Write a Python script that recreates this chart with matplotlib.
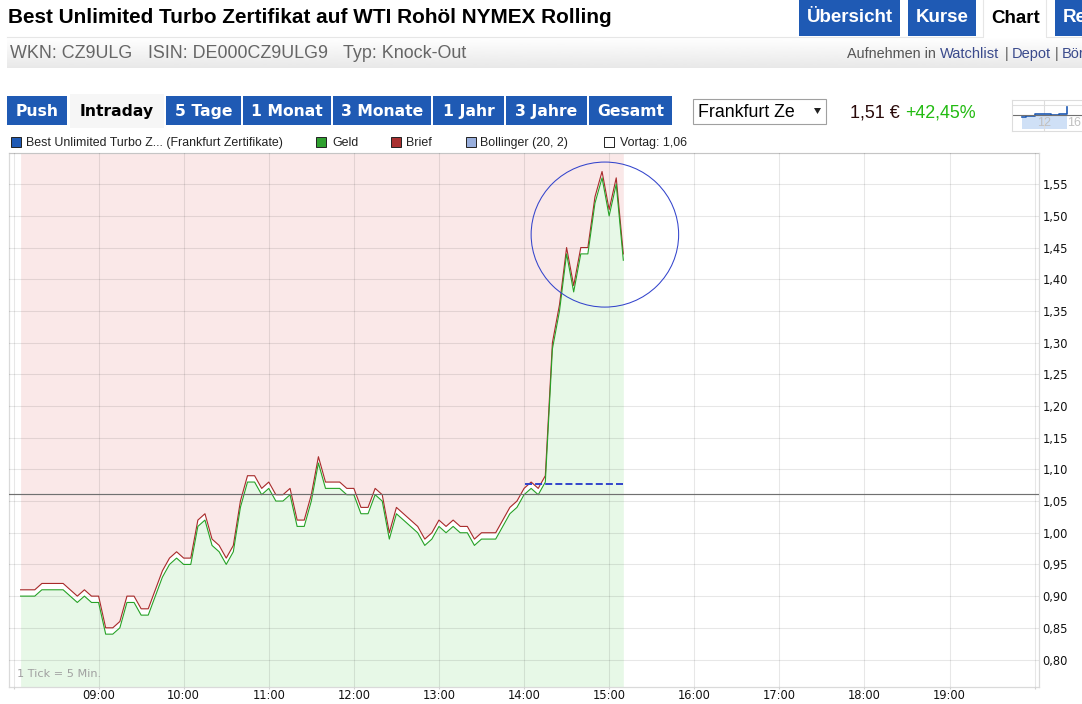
import numpy as np
import matplotlib
matplotlib.use('Agg')
import matplotlib.pyplot as plt
from matplotlib.patches import Rectangle, Ellipse, Polygon

W, H = 1082, 704

# intraday data, one entry every 5 min, one row per hour
times = [
    '08:05', '08:10', '08:15', '08:20', '08:25', '08:30', '08:35', '08:40', '08:45', '08:50', '08:55',
    '09:00', '09:05', '09:10', '09:15', '09:20', '09:25', '09:30', '09:35', '09:40', '09:45', '09:50', '09:55',
    '10:00', '10:05', '10:10', '10:15', '10:20', '10:25', '10:30', '10:35', '10:40', '10:45', '10:50', '10:55',
    '11:00', '11:05', '11:10', '11:15', '11:20', '11:25', '11:30', '11:35', '11:40', '11:45', '11:50', '11:55',
    '12:00', '12:05', '12:10', '12:15', '12:20', '12:25', '12:30', '12:35', '12:40', '12:45', '12:50', '12:55',
    '13:00', '13:05', '13:10', '13:15', '13:20', '13:25', '13:30', '13:35', '13:40', '13:45', '13:50', '13:55',
    '14:00', '14:05', '14:10', '14:15', '14:20', '14:25', '14:30', '14:35', '14:40', '14:45', '14:50', '14:55',
    '15:00', '15:05', '15:10',
]
geld = [
    .90, .90, .90, .91, .91, .91, .91, .90, .89, .90, .89,
    .89, .84, .84, .85, .89, .89, .87, .87, .90, .93, .95, .96,
    .95, .95, 1.01, 1.02, .98, .97, .95, .97, 1.04, 1.08, 1.08, 1.06,
    1.07, 1.05, 1.05, 1.06, 1.01, 1.01, 1.05, 1.11, 1.07, 1.07, 1.07, 1.06,
    1.06, 1.03, 1.03, 1.06, 1.05, .99, 1.03, 1.02, 1.01, 1.00, .98, .99,
    1.01, 1.00, 1.01, 1.00, 1.00, .98, .99, .99, .99, 1.01, 1.03, 1.04,
    1.06, 1.07, 1.06, 1.08, 1.29, 1.35, 1.44, 1.38, 1.44, 1.44, 1.52, 1.56,
    1.50, 1.55, 1.43,
]
brief = [
    .91, .91, .91, .92, .92, .92, .92, .91, .90, .91, .90,
    .90, .85, .85, .86, .90, .90, .88, .88, .91, .94, .96, .97,
    .96, .96, 1.02, 1.03, .99, .98, .96, .98, 1.05, 1.09, 1.09, 1.07,
    1.08, 1.06, 1.06, 1.07, 1.02, 1.02, 1.06, 1.12, 1.08, 1.08, 1.08, 1.07,
    1.07, 1.04, 1.04, 1.07, 1.06, 1.00, 1.04, 1.03, 1.02, 1.01, .99, 1.00,
    1.02, 1.01, 1.02, 1.01, 1.01, .99, 1.00, 1.00, 1.00, 1.02, 1.04, 1.05,
    1.07, 1.08, 1.07, 1.09, 1.30, 1.36, 1.45, 1.39, 1.45, 1.45, 1.53, 1.57,
    1.51, 1.56, 1.44,
]
vortag = 1.0607
bollinger_times = ['14:01', '15:10']
bollinger = [1.0775, 1.0775]

hour_ticks = ['08:00', '09:00', '10:00', '11:00', '12:00', '13:00', '14:00', '15:00', '16:00', '17:00', '18:00', '19:00', '20:00']
hour_labels = ['', '09:00', '10:00', '11:00', '12:00', '13:00', '14:00', '15:00', '16:00', '17:00', '18:00', '19:00', '']
price_ticks = [.80, .85, .90, .95, 1.00, 1.05, 1.10, 1.15, 1.20, 1.25, 1.30, 1.35, 1.40, 1.45, 1.50, 1.55, 1.60]

# small overview chart top right
mini_hours = [9.27, 9.77, 9.77, 10.9, 10.9, 12.95, 12.95, 14.0, 14.0, 14.92, 14.92]
mini_vals = [1.025, 1.025, 1.065, 1.065, 1.118, 1.118, 1.096, 1.096, 1.118, 1.118, 1.353]

nav_buttons = [('Push', 7, 67), ('5 Tage', 166, 241), ('1 Monat', 243, 331), ('3 Monate', 333, 431),
               ('1 Jahr', 433, 504), ('3 Jahre', 506, 587), ('Gesamt', 589, 672)]

BLUE = '#1f5ab4'
SANS = 'Liberation Sans'


def hours(t):
    return int(t[:2]) + int(t[3:]) / 60


fig = plt.figure(figsize=(W / 100, H / 100), dpi=100, facecolor='white')

# page furniture is drawn in pixel coordinates
ui = fig.add_axes([0, 0, 1, 1])
ui.set_xlim(0, W)
ui.set_ylim(H, 0)
ui.axis('off')


def box(x0, x1, y0, y1, **kw):
    ui.add_patch(Rectangle((x0, y0), x1 - x0, y1 - y0, **kw))


# y is the text baseline
def label(x, y, s, size, color='black', weight='normal', family=SANS, ha='left'):
    return ui.text(x, y, s, fontsize=size * 0.72, color=color, fontweight=weight, family=family, ha=ha, va='baseline')


label(8, 23, 'Best Unlimited Turbo Zertifikat auf WTI Rohöl NYMEX Rolling', 20.75, weight='bold')

# top tabs
box(799, 900, 0, 36, color=BLUE, lw=0)
box(908, 976, 0, 36, color=BLUE, lw=0)
box(1055, 1082, 0, 36, color=BLUE, lw=0)
label(850, 22.5, 'Übersicht', 18.8, 'white', 'bold', ha='center')
label(942.5, 22.5, 'Kurse', 18.8, 'white', 'bold', ha='center')
label(1015.5, 23, 'Chart', 18.8, 'black', 'bold', ha='center')
label(1063, 22.5, 'Re', 18.8, 'white', 'bold')
ui.plot([7, 983, 983], [36.5, 36.5, 0], color='#e6e6e6', lw=0.8)
ui.plot([1046, 1046, 1082], [0, 36.5, 36.5], color='#e6e6e6', lw=0.8)

# grey band below the title
grad = np.linspace(1, 0.91, 32).reshape(-1, 1)
ui.imshow(grad, extent=(7, W, 68, 37), cmap='gray', vmin=0, vmax=1, aspect='auto', zorder=0)
ui.set_xlim(0, W)
ui.set_ylim(H, 0)
label(10, 58, 'WKN: CZ9ULG', 17.9, '#666666')
label(148, 58, 'ISIN: DE000CZ9ULG9', 17.9, '#666666')
label(343, 58, 'Typ: Knock-Out', 17.9, '#666666')
label(847, 58, 'Aufnehmen in', 14.4, '#555555')
label(940, 58, 'Watchlist', 14.6, '#3a4a8c')
label(1005, 58, '|', 14.6, '#555555')
label(1012, 58, 'Depot', 14.6, '#3a4a8c')
label(1055, 58, '|', 14.6, '#555555')
label(1062, 58, 'Bör', 14.6, '#3a4a8c')

# period buttons
for name, x0, x1 in nav_buttons:
    box(x0, x1, 96, 125, color=BLUE, lw=0)
    label((x0 + x1) / 2, 116, name, 15.6, 'white', 'bold', 'DejaVu Sans', ha='center')
box(70, 164, 94, 128, color='#f6f6f6', lw=0)
label(117, 116, 'Intraday', 15.6, 'black', 'bold', 'DejaVu Sans', ha='center')

# exchange dropdown and quote
box(692.5, 826, 98.5, 124, facecolor='white', edgecolor='#a0a0a0', lw=0.8)
label(698, 117, 'Frankfurt Ze', 17.8)
ui.add_patch(Polygon([(814, 108), (821, 108), (817.5, 114)], color='#222222', lw=0))
label(850, 118, '1,51 €', 17.9, '#2a0a0a')
label(905.5, 118, '+42,45%', 17.9, '#22bb11')

# legend row
legend_items = [(10, '#1f5ab4', 'Best Unlimited Turbo Z... (Frankfurt Zertifikate)', 26),
                (315, '#2fa02f', 'Geld', 332), (390, '#a83030', 'Brief', 406),
                (465, '#98aedc', 'Bollinger (20, 2)', 480), (603, 'white', 'Vortag: 1,06', 620)]
for x0, col, txt, tx in legend_items:
    box(x0 + 0.5, x0 + 10.5, 136.5, 146.5, facecolor=col, edgecolor='#222222', lw=0.7)
    label(tx, 146, txt, 12.35, '#222222')

# main chart
ax = fig.add_axes([9.3 / W, 1 - 686.5 / H, (1038.5 - 9.3) / W, (686.5 - 152.5) / H])
ax.patch.set_alpha(0)
t = [hours(s) for s in times]
ax.set_xlim(8 - 4.2 / 85.09, 20 + 3.9 / 85.09)
ax.set_ylim(0.7574, 1.60)
ax.fill_between(t, brief, 1.60, color='#fae8e8', lw=0, zorder=1)
ax.fill_between(t, 0.7574, geld, color='#e7f8e7', lw=0, zorder=1)
ax.set_xticks([hours(s) for s in hour_ticks], hour_labels)
ax.set_yticks(price_ticks, [f'{v:.2f}'.replace('.', ',') for v in price_ticks[:-1]] + [''])
ax.yaxis.tick_right()
ax.grid(True, color='black', alpha=0.095, lw=0.8)
ax.set_axisbelow(False)
for gl in ax.get_xgridlines() + ax.get_ygridlines():
    gl.set_zorder(2)
ax.tick_params(axis='x', length=1.5, width=0.8, color='#d0d0d0', pad=0.6, labelsize=8.3, labelcolor='#111111')
ax.tick_params(axis='y', length=0, pad=3, labelsize=8.3, labelcolor='#111111')
for lb in ax.get_xticklabels() + ax.get_yticklabels():
    lb.set_family('DejaVu Sans')
for sp in ax.spines.values():
    sp.set_color('#dadada')
    sp.set_linewidth(0.9)

ax.plot(t, brief, color='#a82a2a', lw=0.8, zorder=4)
ax.plot(t, geld, color='#26a226', lw=0.8, zorder=5)
ax.axhline(vortag, color='#707070', lw=0.85, zorder=6)
ax.plot([hours(s) for s in bollinger_times], bollinger, color='#3344cc', lw=1.4, dashes=(3.6, 1.6), zorder=7)
ax.add_patch(Ellipse((hours('14:57'), 1.4705), 147.5 / 85.09, 145 / 633.6, facecolor='none', edgecolor='#3344cc', lw=0.75, zorder=8))
ax.text(8 + 3 / 85.09, 0.7775, '1 Tick = 5 Min.', fontsize=8.1, color='#a0a0a0', family='DejaVu Sans', va='center', zorder=9)

# overview chart
mini = fig.add_axes([1012 / W, 1 - 131 / H, (W - 1012) / W, 31 / H])
mini.set_xlim(8, 16.86)
mini.set_ylim(0.6, 1.56)
mini.fill_between(mini_hours, 0.66, mini_vals, color='#cfe0f6', lw=0)
mini.plot(mini_hours, mini_vals, color='#1f5ab4', lw=1.2)
mini.axhline(1.096, color='#707070', lw=0.8)
mini.axhline(1.40, color='#e0e0e0', lw=0.8, zorder=0)
mini.set_xticks([12])
mini.set_xticklabels([])
mini.set_yticks([])
mini.grid(True, axis='x', color='#dddddd', lw=0.8)
for sp in mini.spines.values():
    sp.set_color('#dddddd')
mini.spines['right'].set_visible(False)
mini.tick_params(length=0)
mini.text(12, 0.85, '12', fontsize=9, color='#c0c0c0', ha='center', va='center', family=SANS)
mini.text(15.85, 0.85, '16', fontsize=9, color='#c0c0c0', ha='center', va='center', family=SANS)

fig.savefig('out.png', dpi=100)
